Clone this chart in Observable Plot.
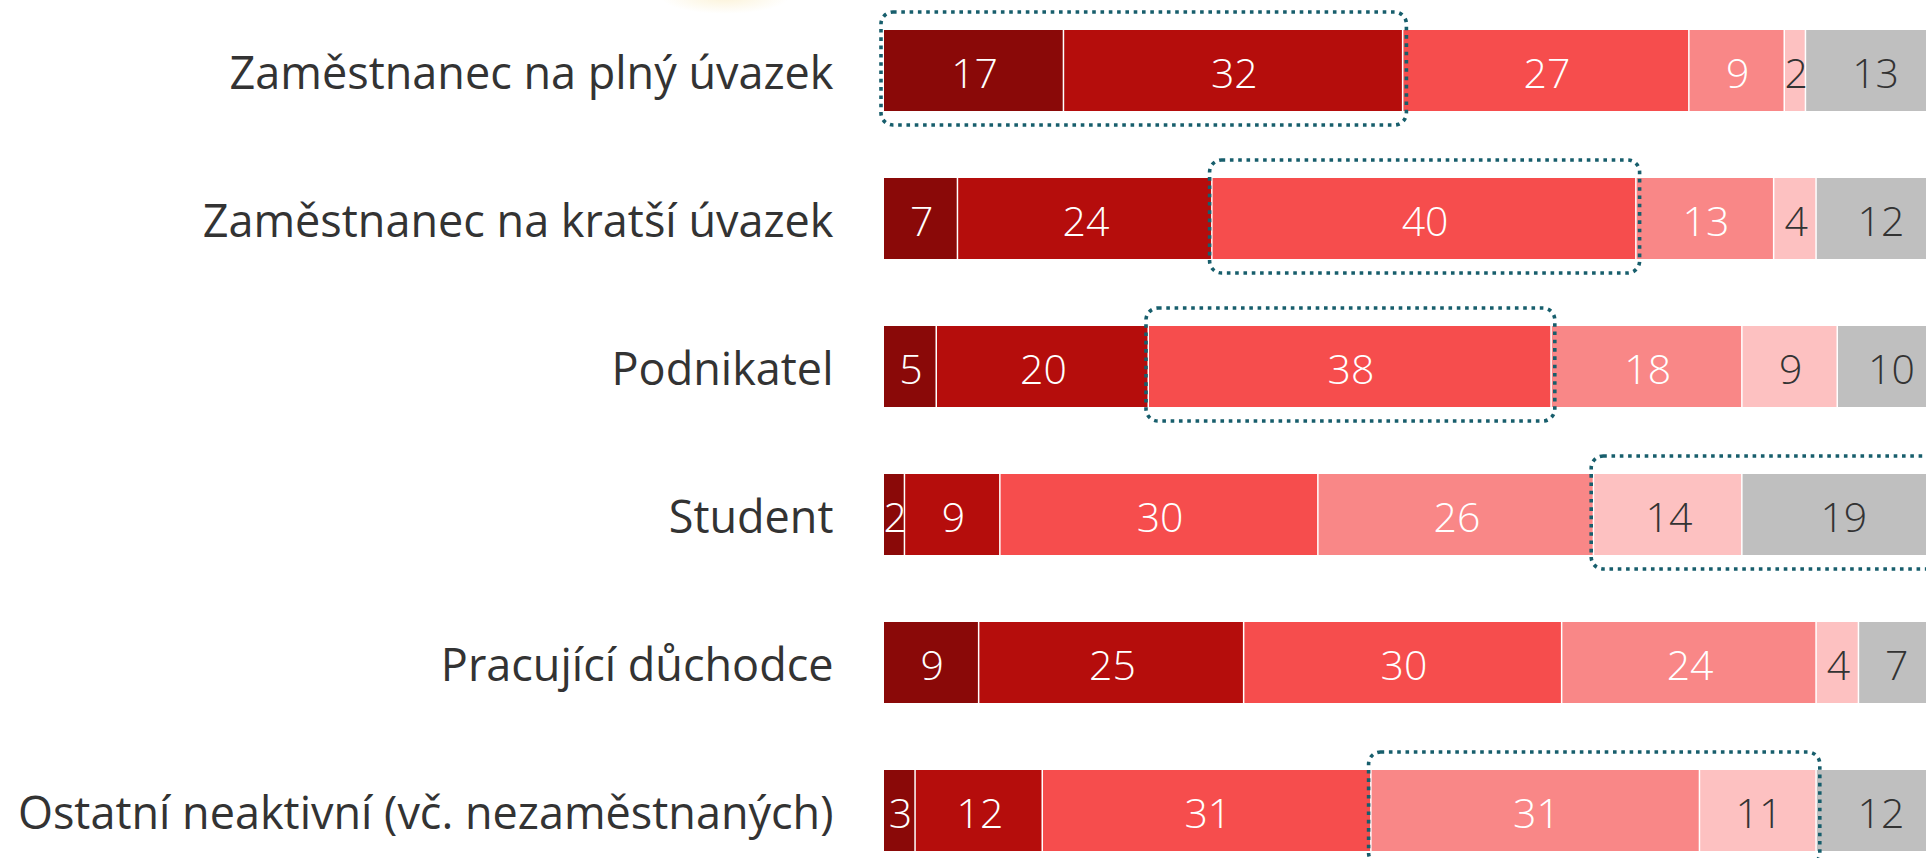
<!DOCTYPE html>
<html>
<head>
<meta charset="utf-8">
<script src="https://cdn.jsdelivr.net/npm/d3@7"></script>
<script src="https://cdn.jsdelivr.net/npm/@observablehq/plot@0.6"></script>
<style>
  html, body { margin: 0; padding: 0; background: #fff; overflow: hidden; width: 1926px; height: 858px; }
  #glow { position: absolute; left: 660px; top: -20px; width: 130px; height: 34px;
          background: radial-gradient(ellipse at center, rgba(250,235,190,0.6), rgba(255,255,255,0) 70%); }
  #chart { position: absolute; left: 0; top: 0; width: 1960px; }
  #chart svg { max-width: none !important; }
</style>
</head>
<body>
<div id="glow"></div>
<div id="chart"></div>
<script>
const categories = [
  "Zaměstnanec na plný úvazek",
  "Zaměstnanec na kratší úvazek",
  "Podnikatel",
  "Student",
  "Pracující důchodce",
  "Ostatní neaktivní (vč. nezaměstnaných)"
];
const levels = ["1", "2", "3", "4", "5", "6"];
const levelColors = ["#8a0908", "#b50d0c", "#f64d4d", "#f98787", "#fdc1c1", "#bfbfbf"];
const level1 = [17, 7, 5, 2, 9, 3];
const level2 = [32, 24, 20, 9, 25, 12];
const level3 = [27, 40, 38, 30, 30, 31];
const level4 = [9, 13, 18, 26, 24, 31];
const level5 = [2, 4, 9, 14, 4, 11];
const level6 = [13, 12, 10, 19, 7, 12];
const darkLabelLevels = ["5", "6"];
// highlighted (dotted box) segment ranges: category index, first level index, last level index
const highlightCats = [0, 1, 2, 3, 5];
const highlightFrom = [0, 2, 2, 4, 3];
const highlightTo = [1, 2, 2, 5, 4];

const seriesValues = [level1, level2, level3, level4, level5, level6];
const table = [];
categories.forEach((c, i) => {
  let acc = 0;
  levels.forEach((l, j) => {
    const v = seriesValues[j][i];
    table.push({category: c, level: l, value: v, start: acc, end: acc + v, mid: acc + v / 2});
    acc += v;
  });
});
const highlights = highlightCats.map((ci, k) => {
  const vals = seriesValues.map(s => s[ci]);
  const start = d3.sum(vals.slice(0, highlightFrom[k]));
  const end = d3.sum(vals.slice(0, highlightTo[k] + 1));
  return {category: categories[ci], x1: start, x2: end};
});

const font = "'Open Sans', 'Noto Sans', sans-serif";
const chart = Plot.plot({
  width: 1960,
  height: 858,
  marginLeft: 884,
  marginRight: 16,
  marginTop: 0,
  marginBottom: 0,
  style: {fontFamily: font, color: "#333", background: "transparent", overflow: "visible", maxWidth: "none"},
  x: {domain: [0, 100], axis: null},
  y: {domain: categories, range: [-4, 884], paddingInner: 0.453, paddingOuter: 0.2265, label: null},
  color: {domain: levels, range: levelColors},
  marks: [
    Plot.barX(table, {x1: "start", x2: "end", y: "category", fill: "level", insetRight: 1.5}),
    Plot.text(table.filter(d => !darkLabelLevels.includes(d.level)),
      {x: "mid", y: "category", dy: 4, text: d => String(d.value), fill: "white", fontSize: 41, fontWeight: 300}),
    Plot.text(table.filter(d => darkLabelLevels.includes(d.level)),
      {x: "mid", y: "category", dy: 4, text: d => String(d.value), fill: "#333", fontSize: 41, fontWeight: 300}),
    Plot.barX(highlights, {x1: "x1", x2: "x2", y: "category",
      insetTop: -18, insetBottom: -14, insetLeft: -3, insetRight: -3, rx: 12,
      fill: "none", stroke: "#175e6c", strokeWidth: 3.6, strokeDasharray: "3.6,4.7"}),
    Plot.axisY({tickSize: 0, tickPadding: 51, dy: 4, fontSize: 45, fontWeight: 400, label: null})
  ]
});
document.getElementById("chart").append(chart);
</script>
</body>
</html>
